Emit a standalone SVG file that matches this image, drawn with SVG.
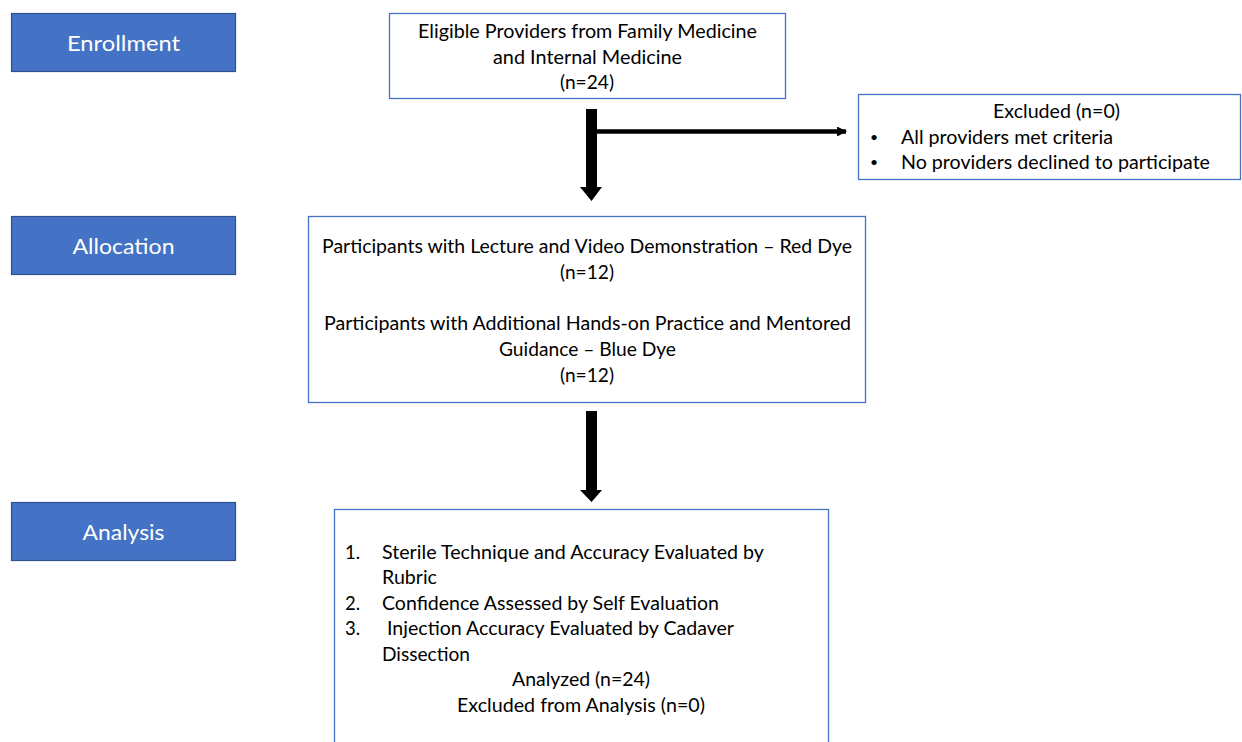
<svg xmlns="http://www.w3.org/2000/svg" width="1242" height="742" viewBox="0 0 1242 742">
<defs>
<style>
.stage{fill:#4472C4;stroke:#2F528F;stroke-width:1.2}
.stext{font-family:Lato,"Open Sans",sans-serif;font-size:22px;fill:#FFFFFF;text-anchor:middle}
.box{fill:#FFFFFF;stroke:#4472C4;stroke-width:1.3}
.t{font-family:Lato,"Open Sans",sans-serif;font-size:18.5px;fill:#000000}
.b{font-family:Lato,"Open Sans",sans-serif;font-size:14px;fill:#000000}
.c{text-anchor:middle}
.big{fill:#000000}
</style>
<marker id="ah" viewBox="0 0 10 10" refX="9" refY="5" markerWidth="2.2" markerHeight="2.2" orient="auto" markerUnits="strokeWidth">
<path d="M0,0 L10,5 L0,10 z" fill="#000000"/>
</marker>
</defs>
<rect width="1242" height="742" fill="#FFFFFF"/>

<g id="stage-enrollment">
<rect class="stage" x="11.5" y="13.5" width="224" height="58"/>
<text class="stext" x="123.5" y="51" textLength="113" lengthAdjust="spacingAndGlyphs">Enrollment</text>
</g>
<g id="stage-allocation">
<rect class="stage" x="11.5" y="216.5" width="224" height="58"/>
<text class="stext" x="123.5" y="254" textLength="102" lengthAdjust="spacingAndGlyphs">Allocation</text>
</g>
<g id="stage-analysis">
<rect class="stage" x="11.5" y="502.5" width="224" height="58"/>
<text class="stext" x="123.5" y="540" textLength="82" lengthAdjust="spacingAndGlyphs">Analysis</text>
</g>

<g id="eligible">
<rect class="box" x="389.5" y="13.5" width="396" height="85"/>
<text class="t c" x="587.5" y="38" textLength="339" lengthAdjust="spacingAndGlyphs">Eligible Providers from Family Medicine</text>
<text class="t c" x="587.5" y="63.5" textLength="189" lengthAdjust="spacingAndGlyphs">and Internal Medicine</text>
<text class="t c" x="587" y="89" textLength="54" lengthAdjust="spacingAndGlyphs">(n=24)</text>
</g>

<g id="excluded">
<rect class="box" x="858.5" y="94.5" width="382" height="85"/>
<text class="t c" x="1056.5" y="118" textLength="127" lengthAdjust="spacingAndGlyphs">Excluded (n=0)</text>
<text class="b" x="870" y="142">•</text>
<text class="t" x="901" y="144" textLength="212" lengthAdjust="spacingAndGlyphs">All providers met criteria</text>
<text class="b" x="870" y="167">•</text>
<text class="t" x="901" y="169" textLength="309" lengthAdjust="spacingAndGlyphs">No providers declined to participate</text>
</g>

<g id="allocation">
<rect class="box" x="308.5" y="216.5" width="557" height="186"/>
<text class="t c" x="587" y="253" textLength="530" lengthAdjust="spacingAndGlyphs">Participants with Lecture and Video Demonstration – Red Dye</text>
<text class="t c" x="587" y="278.5" textLength="54" lengthAdjust="spacingAndGlyphs">(n=12)</text>
<text class="t c" x="587.5" y="329.5" textLength="527" lengthAdjust="spacingAndGlyphs">Participants with Additional Hands-on Practice and Mentored</text>
<text class="t c" x="587.5" y="355.5" textLength="177" lengthAdjust="spacingAndGlyphs">Guidance – Blue Dye</text>
<text class="t c" x="587" y="381.5" textLength="54" lengthAdjust="spacingAndGlyphs">(n=12)</text>
</g>

<g id="analysis">
<rect class="box" x="334.5" y="509.5" width="494" height="250"/>
<text class="t" x="345" y="558.5">1.</text>
<text class="t" x="382" y="558.5" textLength="382" lengthAdjust="spacingAndGlyphs">Sterile Technique and Accuracy Evaluated by</text>
<text class="t" x="382" y="584" textLength="55" lengthAdjust="spacingAndGlyphs">Rubric</text>
<text class="t" x="345" y="609.5">2.</text>
<text class="t" x="382" y="609.5" textLength="337" lengthAdjust="spacingAndGlyphs">Confidence Assessed by Self Evaluation</text>
<text class="t" x="345" y="635">3.</text>
<text class="t" x="387" y="635" textLength="347" lengthAdjust="spacingAndGlyphs">Injection Accuracy Evaluated by Cadaver</text>
<text class="t" x="382" y="660.5" textLength="88" lengthAdjust="spacingAndGlyphs">Dissection</text>
<text class="t c" x="581" y="686" textLength="138" lengthAdjust="spacingAndGlyphs">Analyzed (n=24)</text>
<text class="t c" x="581" y="711.5" textLength="248" lengthAdjust="spacingAndGlyphs">Excluded from Analysis (n=0)</text>
</g>

<g id="connectors">
<polygon class="big" points="586,109 597,109 597,187 602,187 591.5,201 580,187 586,187"/>
<line x1="597" y1="131.5" x2="846" y2="131.5" stroke="#000000" stroke-width="4.5" marker-end="url(#ah)"/>
<polygon class="big" points="586,411 597,411 597,490 602,490 591.5,502 580,490 586,490"/>
</g>
</svg>
